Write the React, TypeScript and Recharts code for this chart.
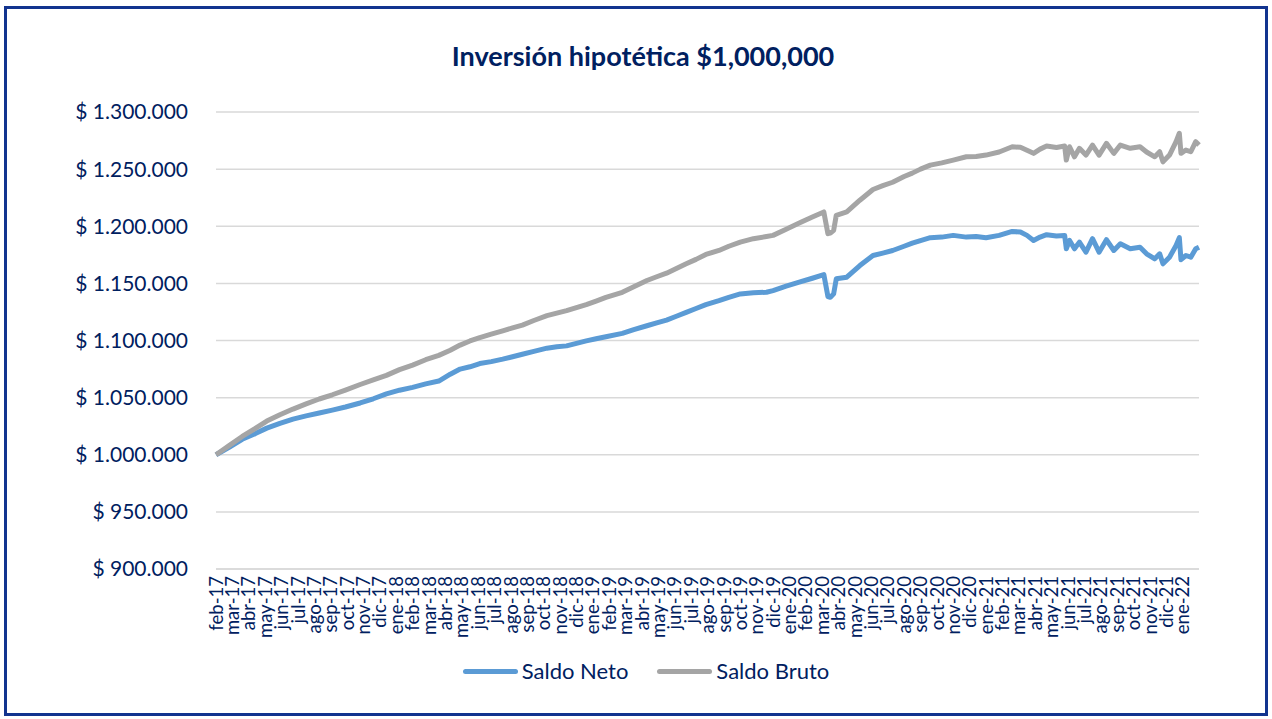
import React from "react";
import {
  LineChart,
  Line,
  XAxis,
  YAxis,
  CartesianGrid,
} from "recharts";

// etiquetas del eje X (una por mes)
const etiquetasMes = [
  "feb-17", "mar-17", "abr-17", "may-17", "jun-17", "jul-17", "ago-17", "sep-17", "oct-17", "nov-17", "dic-17",
  "ene-18", "feb-18", "mar-18", "abr-18", "may-18", "jun-18", "jul-18", "ago-18", "sep-18", "oct-18", "nov-18", "dic-18",
  "ene-19", "feb-19", "mar-19", "abr-19", "may-19", "jun-19", "jul-19", "ago-19", "sep-19", "oct-19", "nov-19", "dic-19",
  "ene-20", "feb-20", "mar-20", "abr-20", "may-20", "jun-20", "jul-20", "ago-20", "sep-20", "oct-20", "nov-20", "dic-20",
  "ene-21", "feb-21", "mar-21", "abr-21", "may-21", "jun-21", "jul-21", "ago-21", "sep-21", "oct-21", "nov-21", "dic-21",
  "ene-22",
];

// meses transcurridos desde feb-17
const tiempo = [
  0, 0.8, 1.6, 2.4, 3.1, 3.9, 4.7, 5.5, 6.3, 7.1, 7.9, 8.8, 9.6, 10.4, 11.2, 12.0, 12.8, 13.6, 14.3, 14.9,
  15.5, 16.1, 16.8, 17.5, 18.1, 18.7, 19.4, 20.2, 20.8, 21.4, 22.0, 22.6, 23.2, 23.8, 24.8, 25.5, 26.3, 26.9,
  27.5, 28.1, 28.7, 29.3, 29.9, 30.7, 31.3, 32.0, 32.8, 33.6, 34.0, 34.8, 35.6, 36.4, 37.1, 37.35, 37.5, 37.7,
  37.86, 38.5, 39.3, 40.1, 40.7, 41.3, 42.0, 42.5, 43.0, 43.6, 44.3, 45.0, 45.8, 46.4, 47.0, 47.8, 48.6, 49.1,
  49.5, 49.9, 50.3, 50.7, 51.3, 51.8, 51.9, 52.1, 52.4, 52.7, 53.1, 53.5, 53.9, 54.35, 54.8, 55.2, 55.8, 56.4,
  56.8, 57.3, 57.6, 57.8, 58.2, 58.6, 58.8, 58.9, 59.2, 59.5, 59.8, 60.0,
];

// saldos en miles
const saldoNeto = [
  1000.0, 1006.5, 1013.5, 1018.5, 1023.3, 1027.5, 1031.2, 1034.0, 1036.5, 1039.1, 1041.8, 1045.3, 1049.0, 1053.2,
  1056.5, 1059.0, 1062.0, 1064.5, 1070.5, 1075.0, 1077.0, 1079.8, 1081.5, 1083.7, 1085.8, 1088.0, 1090.5, 1093.3,
  1094.5, 1095.3, 1097.5, 1099.7, 1101.5, 1103.3, 1106.2, 1109.5, 1112.9, 1115.5, 1117.9, 1121.2, 1124.6, 1128.0,
  1131.4, 1134.9, 1137.8, 1140.8, 1141.8, 1142.2, 1143.7, 1147.5, 1151.0, 1154.5, 1157.7, 1138.5, 1137.8, 1140.8,
  1154.0, 1155.4, 1165.6, 1174.4, 1176.5, 1178.8, 1182.5, 1185.2, 1187.5, 1190.0, 1190.5, 1192.0, 1190.5, 1191.0,
  1190.0, 1192.0, 1195.5, 1194.9, 1192.0, 1187.6, 1190.5, 1192.6, 1191.5, 1192.0, 1180.3, 1187.6, 1180.3, 1186.1,
  1177.3, 1189.1, 1177.3, 1188.2, 1178.8, 1184.7, 1180.3, 1181.7, 1175.9, 1171.5, 1175.9, 1167.1, 1172.9, 1183.2,
  1190.0, 1170.7, 1174.4, 1172.9, 1180.3, 1181.7,
];

const saldoBruto = [
  1000.0, 1008.0, 1016.0, 1023.0, 1029.5, 1035.0, 1040.0, 1044.5, 1048.8, 1052.5, 1056.6, 1061.5, 1065.5, 1069.5,
  1074.5, 1078.5, 1083.2, 1087.0, 1091.5, 1096.0, 1099.6, 1102.6, 1105.5, 1108.5, 1111.0, 1113.5, 1117.5, 1121.7,
  1124.0, 1126.1, 1128.8, 1131.4, 1134.5, 1137.8, 1142.2, 1147.0, 1152.5, 1155.8, 1158.9, 1163.0, 1167.1, 1171.0,
  1175.3, 1178.8, 1182.5, 1186.1, 1189.1, 1191.0, 1192.0, 1197.3, 1202.8, 1208.1, 1212.5, 1193.5, 1194.0, 1196.4,
  1209.6, 1212.5, 1222.8, 1232.2, 1235.5, 1238.5, 1243.5, 1246.5, 1250.0, 1253.5, 1255.5, 1257.9, 1260.8, 1261.0,
  1262.3, 1265.0, 1269.6, 1269.1, 1266.5, 1263.8, 1267.5, 1270.2, 1269.0, 1270.2, 1257.9, 1269.6, 1260.8, 1268.2,
  1262.3, 1271.1, 1262.3, 1272.6, 1263.8, 1271.1, 1268.2, 1269.6, 1265.0, 1260.8, 1265.2, 1256.4, 1262.3, 1274.0,
  1281.4, 1263.8, 1266.7, 1265.2, 1274.0, 1271.1,
];

const series = [
  { key: "neto", nombre: "Saldo Neto", color: "#5b9bd5" },
  { key: "bruto", nombre: "Saldo Bruto", color: "#a5a5a5" },
];

const ticksY = [900000, 950000, 1000000, 1050000, 1100000, 1150000, 1200000, 1250000, 1300000];
const ticksX = etiquetasMes.map((_, i) => i);

const data = tiempo.map((t, i) => ({
  t,
  neto: saldoNeto[i] * 1000,
  bruto: saldoBruto[i] * 1000,
}));

const AZUL = "#002060";
const FUENTE = "Lato, 'Open Sans', sans-serif";

const formatoPesos = (v: number) =>
  "$ " + String(v).replace(/\B(?=(\d{3})+(?!\d))/g, ".");

const TickMes = (props: any) => {
  const { x, y, payload } = props;
  const ty = y - 1;
  return (
    <text
      x={x}
      y={ty}
      dy="0.36em"
      textAnchor="end"
      transform={`rotate(-90, ${x}, ${ty})`}
      fill={AZUL}
      fontSize={18.5}
      fontFamily={FUENTE}
    >
      {etiquetasMes[payload.value]}
    </text>
  );
};

export default function App() {
  return (
    <div style={{ position: "absolute", left: 0, top: 0, width: 1272, height: 719, background: "#fff" }}>
      <div
        style={{
          position: "absolute",
          left: 4,
          top: 6,
          width: 1264,
          height: 710,
          border: "3px solid #12348f",
          boxSizing: "border-box",
        }}
      />
      <div
        style={{
          position: "absolute",
          top: 39,
          left: 0,
          width: 1286,
          textAlign: "center",
          fontFamily: FUENTE,
          fontWeight: 700,
          fontSize: 27,
          color: AZUL,
        }}
      >
        Inversión hipotética $1,000,000
      </div>
      <LineChart
        width={1272}
        height={719}
        data={data}
        margin={{ top: 112, right: 73, bottom: 80, left: 0 }}
      >
        <CartesianGrid horizontal vertical={false} stroke="#d9d9d9" strokeWidth={1.5} />
        <XAxis
          dataKey="t"
          type="number"
          domain={[0, 60]}
          ticks={ticksX}
          interval={0}
          height={70}
          axisLine={{ stroke: "#d9d9d9", strokeWidth: 1.5 }}
          tickLine={false}
          tick={<TickMes />}
        />
        <YAxis
          domain={[900000, 1300000]}
          ticks={ticksY}
          width={216}
          axisLine={false}
          tickLine={false}
          tickMargin={22}
          tickFormatter={formatoPesos}
          tick={{ fill: AZUL, fontSize: 21, fontFamily: FUENTE }}
        />
        {series.map((s) => (
          <Line
            key={s.key}
            type="linear"
            dataKey={s.key}
            name={s.nombre}
            stroke={s.color}
            strokeWidth={5}
            strokeLinejoin="round"
            dot={false}
            isAnimationActive={false}
          />
        ))}
      </LineChart>
      <div
        style={{
          position: "absolute",
          top: 657,
          left: 10,
          width: 1272,
          display: "flex",
          justifyContent: "center",
          gap: 29,
          fontFamily: FUENTE,
          fontSize: 22,
          color: AZUL,
          lineHeight: "28px",
        }}
      >
        {series.map((s) => (
          <div key={s.key} style={{ display: "flex", alignItems: "center" }}>
            <span
              style={{
                display: "inline-block",
                width: 55,
                height: 5,
                borderRadius: 3,
                background: s.color,
                marginRight: 4,
              }}
            />
            <span>{s.nombre}</span>
          </div>
        ))}
      </div>
    </div>
  );
}
